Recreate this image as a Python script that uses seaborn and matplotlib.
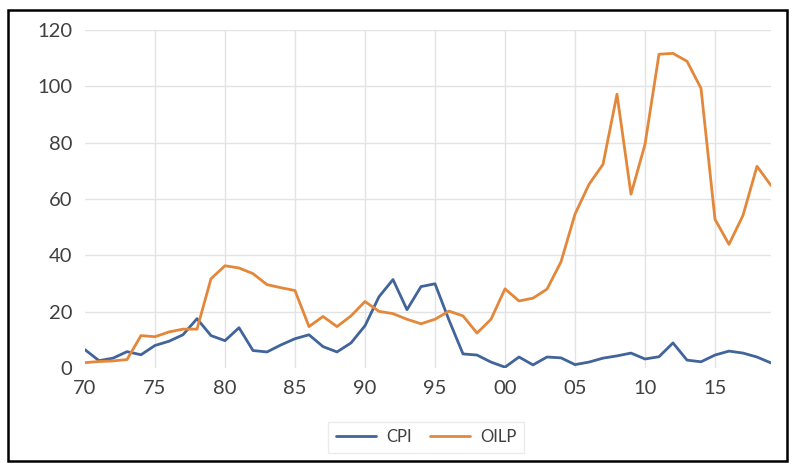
import numpy as np
import pandas as pd
import matplotlib
matplotlib.use("Agg")
import matplotlib.pyplot as plt
from matplotlib.patches import Rectangle
import seaborn as sns

# Annual series, 1970-2019
years = list(range(1970, 2020))
cpi = [6.5, 2.6, 3.5, 5.8, 4.7, 8.0, 9.5, 11.8, 17.5, 11.5,
       9.7, 14.3, 6.2, 5.7, 8.2, 10.4, 11.8, 7.6, 5.7, 8.9,
       15.0, 25.3, 31.4, 20.7, 28.9, 29.9, 17.0, 5.0, 4.6, 2.1,
       0.3, 3.9, 1.1, 3.9, 3.6, 1.2, 2.1, 3.5, 4.3, 5.3,
       3.2, 4.0, 8.9, 2.8, 2.2, 4.6, 6.0, 5.3, 3.9, 1.8]
oilp = [1.9, 2.3, 2.5, 3.0, 11.5, 11.1, 12.8, 13.8, 13.8, 31.7,
        36.3, 35.5, 33.5, 29.6, 28.5, 27.5, 14.7, 18.3, 14.7, 18.5,
        23.6, 20.1, 19.3, 17.3, 15.7, 17.3, 20.2, 18.5, 12.4, 17.3,
        28.1, 23.8, 24.8, 28.0, 37.7, 54.6, 65.2, 72.3, 97.2, 61.7,
        79.4, 111.4, 111.7, 108.9, 99.3, 52.8, 43.9, 54.2, 71.6, 64.8]
series_names = ["CPI", "OILP"]
x_ticks = list(range(1970, 2020, 5))
x_ticklabels = [f"{y % 100:02d}" for y in x_ticks]
y_ticks = [0, 20, 40, 60, 80, 100, 120]

df = pd.DataFrame({
    "year": years * 2,
    "value": cpi + oilp,
    "series": [series_names[0]] * len(years) + [series_names[1]] * len(years),
})

sns.set_theme(style="white")
plt.rcParams["font.family"] = ["Lato", "DejaVu Sans"]

fig = plt.figure(figsize=(7.94, 4.67), dpi=100)
ax = fig.add_axes([85 / 794, 1 - 368 / 467, (771 - 85) / 794, (368 - 30) / 467])

grid_color = "#e3e3e3"
for yv in y_ticks[1:]:
    ax.axhline(yv, color=grid_color, lw=1.0, zorder=0)
for xv in x_ticks[1:]:
    ax.axvline(xv, color=grid_color, lw=1.0, zorder=0)

palette = {"CPI": "#41649a", "OILP": "#e3873a"}
sns.lineplot(data=df, x="year", y="value", hue="series", palette=palette,
             linewidth=2.0, ax=ax, legend=False)

ax.set_xlim(1970, 2019)
ax.set_ylim(0, 120)
ax.set_xticks(x_ticks)
ax.set_xticklabels(x_ticklabels)
ax.set_yticks(y_ticks)
ax.set_xlabel("")
ax.set_ylabel("")
ax.tick_params(axis="both", length=0, labelsize=14.5, colors="#404040")
ax.tick_params(axis="x", pad=9)
ax.tick_params(axis="y", pad=9)
for s in ax.spines.values():
    s.set_visible(False)

handles = [plt.Line2D([], [], color=palette[n], lw=2.0) for n in series_names]
leg = fig.legend(handles, series_names, loc="center", ncol=2,
                 bbox_to_anchor=(426 / 794, 1 - 437 / 467), frameon=True,
                 fontsize=12, handlelength=2.4, handletextpad=0.6,
                 columnspacing=1.1, borderpad=0.45, fancybox=False)
leg.get_frame().set_edgecolor("#e6e6e6")
leg.get_frame().set_linewidth(1.0)
for t in leg.get_texts():
    t.set_color("#404040")

# Outer frame around the chart
fig.patches.append(Rectangle((8 / 794, 1 - 461 / 467), (787 - 8) / 794, (461 - 10) / 467,
                             transform=fig.transFigure, fill=False,
                             edgecolor="black", linewidth=1.8))

fig.savefig("out.png", dpi=100)
